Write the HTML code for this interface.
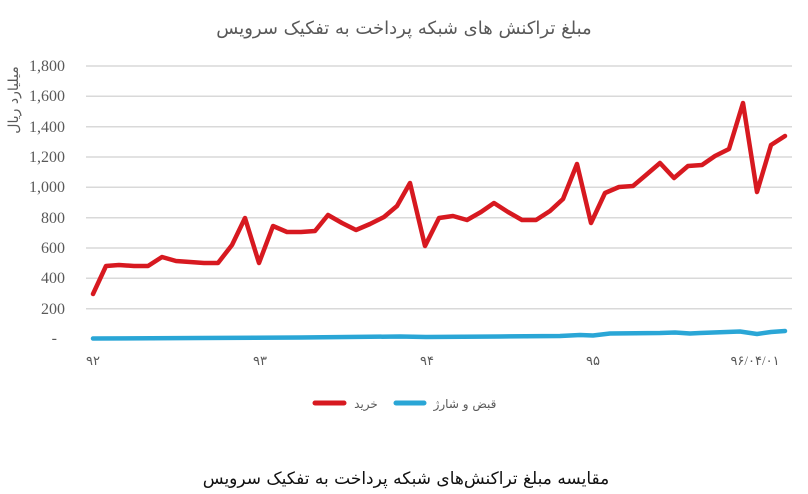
<!DOCTYPE html>
<html><head><meta charset="utf-8"><style>
html,body{margin:0;padding:0;background:#fff;}
svg text{font-family:"Liberation Serif","DejaVu Sans",serif;}
</style></head><body>
<svg width="808" height="489" viewBox="0 0 808 489" xmlns="http://www.w3.org/2000/svg">
<rect width="808" height="489" fill="#fff"/>
<text x="404" y="34" text-anchor="middle" font-size="18" fill="#595959" style="font-family:'DejaVu Sans',sans-serif">مبلغ تراکنش های شبکه پرداخت به تفکیک سرویس</text>
<g stroke="#d9d9d9" stroke-width="1.5">
<line x1="86" y1="66" x2="792" y2="66"/><line x1="86" y1="96.3" x2="792" y2="96.3"/>
<line x1="86" y1="126.7" x2="792" y2="126.7"/><line x1="86" y1="157" x2="792" y2="157"/>
<line x1="86" y1="187.3" x2="792" y2="187.3"/><line x1="86" y1="217.7" x2="792" y2="217.7"/>
<line x1="86" y1="248" x2="792" y2="248"/><line x1="86" y1="278.3" x2="792" y2="278.3"/>
<line x1="86" y1="308.7" x2="792" y2="308.7"/>
</g>
<g font-size="16" fill="#595959" text-anchor="end">
<text x="65" y="71">1,800</text><text x="65" y="101">1,600</text><text x="65" y="132">1,400</text>
<text x="65" y="162">1,200</text><text x="65" y="192">1,000</text><text x="65" y="223">800</text>
<text x="65" y="253">600</text><text x="65" y="283">400</text><text x="65" y="314">200</text>
<text x="57" y="343">-</text>
</g>
<text transform="translate(18,100) rotate(-90)" text-anchor="middle" font-size="14" fill="#595959" style="font-family:'DejaVu Sans',sans-serif">میلیارد ریال</text>
<g font-size="13" fill="#595959" text-anchor="middle" style="font-family:'DejaVu Sans',sans-serif">
<text x="93" y="365">۹۲</text><text x="260" y="365">۹۳</text><text x="427" y="365">۹۴</text>
<text x="593" y="365">۹۵</text><text x="755" y="365">۹۶/۰۴/۰۱</text>
</g>
<polyline fill="none" stroke="#2aa6d6" stroke-width="4.5" stroke-linejoin="round" stroke-linecap="round"
points="93,338.5 200,338 300,337.5 400,336.5 426,337 500,336.5 560,336 580,335 593,335.5 610,333.5 660,333 675,332.5 690,333.5 700,333 740,331.5 757,334 771,332 785,331"/>
<polyline fill="none" stroke="#d71920" stroke-width="4.5" stroke-linejoin="round" stroke-linecap="round"
points="93,294 106,266 119,265 134,266 148,266 162,257 176,261 190,262 204,263 218,263 232,245 245,218 259,263 273,226 287,232 301,232 315,231 328,215 342,223 356,230 370,224 384,217 397,206 410,183 425,246 439,218 453,216 467,220 481,212 494,203 508,212 522,220 536,220 550,211 563,199 577,164 591,223 605,193 619,187 633,186 646,175 660,163 674,178 688,166 702,165 715,156 729,149 743,103 757,192 771,145 785,136"/>
<line x1="315" y1="403" x2="344" y2="403" stroke="#d71920" stroke-width="5" stroke-linecap="round"/>
<text x="366" y="408" font-size="12" fill="#595959" text-anchor="middle" style="font-family:'DejaVu Sans',sans-serif">خرید</text>
<line x1="396" y1="403" x2="424" y2="403" stroke="#2aa6d6" stroke-width="5" stroke-linecap="round"/>
<text x="465" y="408" font-size="12" fill="#595959" text-anchor="middle" style="font-family:'DejaVu Sans',sans-serif">قبض و شارژ</text>
<text x="406" y="484" font-size="17" fill="#111" text-anchor="middle" style="font-family:'DejaVu Sans',sans-serif">مقایسه مبلغ تراکنش‌های شبکه پرداخت به تفکیک سرویس</text>
</svg>
</body></html>
